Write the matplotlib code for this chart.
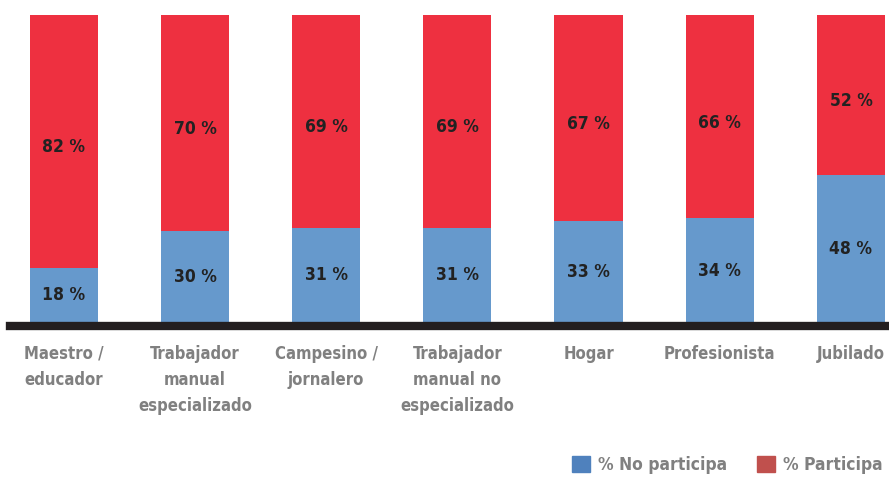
import matplotlib.pyplot as plt
from matplotlib.lines import Line2D
from matplotlib.patches import Patch

categories = ["Maestro /\neducador", "Trabajador\nmanual\nespecializado",
              "Campesino /\njornalero", "Trabajador\nmanual no\nespecializado",
              "Hogar", "Profesionista", "Jubilado"]
no_participa = [18, 30, 31, 31, 33, 34, 48]
participa = [82, 70, 69, 69, 67, 66, 52]

plt.rcParams['font.family'] = ['DejaVu Sans']
plt.rcParams['font.stretch'] = 'condensed'

blue = '#6699cc'
red = '#ee3040'

fig = plt.figure(figsize=(8.89, 4.8), dpi=100)
ax = fig.add_axes([10 / 889, 157 / 480, 879 / 889, 308 / 480])

x = range(len(categories))
ax.bar(x, no_participa, width=0.52, color=blue)
ax.bar(x, participa, width=0.52, bottom=no_participa, color=red)

for i in x:
    ax.text(i, no_participa[i] / 2, f"{no_participa[i]} %", ha='center', va='center',
            fontsize=12.5, fontweight='bold', color='#222222', stretch='condensed')
    ax.text(i, no_participa[i] + participa[i] / 2 - 2, f"{participa[i]} %", ha='center',
            va='center', fontsize=12.5, fontweight='bold', color='#222222', stretch='condensed')
    ax.text(i, -7, categories[i], ha='center', va='top', fontsize=12,
            fontweight='bold', color='#808080', linespacing=1.6, stretch='condensed')

ax.set_xlim(-0.41, 6.29)
ax.set_ylim(0, 100)
ax.axis('off')

# thick base line
fig.add_artist(Line2D([10 / 889, 1], [(480 - 326) / 480] * 2, color='#231f20', lw=6))

handles = [Patch(color='#4f81bd', label='% No participa'),
           Patch(color='#c0504d', label='% Participa')]
fig.legend(handles=handles, loc='lower right', bbox_to_anchor=(1.006, -0.012), ncol=2,
           frameon=False, prop={'size': 12.5, 'weight': 'bold', 'stretch': 'condensed'},
           labelcolor='#808080', handlelength=1.05, handleheight=1.05, handletextpad=0.45,
           columnspacing=1.7, borderaxespad=0.3)

fig.savefig('out.png', dpi=100)
